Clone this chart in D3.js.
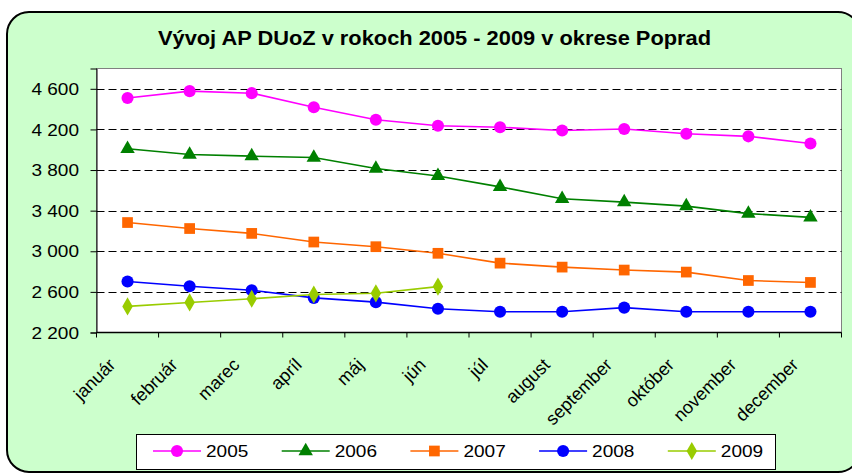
<!DOCTYPE html>
<html><head><meta charset="utf-8">
<script src="https://cdn.jsdelivr.net/npm/d3@7/dist/d3.min.js"></script>
<style>
html,body{margin:0;padding:0;background:#fff;}
svg{display:block;font-family:"Liberation Sans",Arial,sans-serif;}
</style></head>
<body>
<svg id="chart" width="852" height="474"></svg>
<script>
const title = "Vývoj AP DUoZ v rokoch 2005 - 2009 v okrese Poprad";
const months = ["január","február","marec","apríl","máj","jún","júl","august","september","október","november","december"];
const years = ["2005","2006","2007","2008","2009"];
const s2005 = [4510, 4577, 4557, 4418, 4295, 4236, 4222, 4190, 4204, 4157, 4132, 4062];
const s2006 = [4010, 3953, 3937, 3923, 3815, 3742, 3634, 3517, 3484, 3445, 3371, 3334];
const s2007 = [3283, 3224, 3176, 3091, 3045, 2980, 2883, 2844, 2815, 2795, 2712, 2693];
const s2008 = [2703, 2655, 2616, 2541, 2499, 2434, 2405, 2405, 2445, 2405, 2405, 2405];
const s2009 = [2457, 2496, 2532, 2574, 2586, 2652];
const yTicks = [2200, 2600, 3000, 3400, 3800, 4200, 4600];
const yTickLabels = ["2 200","2 600","3 000","3 400","3 800","4 200","4 600"];
const colors = ["#FF00FF","#008000","#FF6600","#0000FF","#99CC00"];
const shapes = [d3.symbolCircle, d3.symbolTriangle, d3.symbolSquare, d3.symbolCircle, d3.symbolDiamond];
const sizes = [115, 90, 115, 115, 95];

const series = [s2005, s2006, s2007, s2008, s2009].map((v,i)=>({year:years[i], values:v, color:colors[i], shape:shapes[i], size:sizes[i]}));

const SX = 1.12; // horizontal text stretch seen in the reference
const svg = d3.select("#chart");

// outer rounded frame
svg.append("rect").attr("x",7).attr("y",12).attr("width",853).attr("height",460)
  .attr("rx",22).attr("ry",22).attr("fill","#CCFFCC").attr("stroke","#000").attr("stroke-width",2);

// title
svg.append("text").attr("transform",`translate(434.5,45) scale(${SX},1)`)
  .attr("text-anchor","middle").attr("font-weight","bold").attr("font-size",19.5).attr("fill","#000").text(title);

const L=96.5, R=841.5, T=68.5, B=332.5;
const x = d3.scaleBand().domain(months).range([L,R]).padding(0);
const y = d3.scaleLinear().domain([2200,4800]).range([B,T]);
const cx = m => x(m) + x.bandwidth()/2;

// plot background
svg.append("rect").attr("x",L).attr("y",T).attr("width",R-L).attr("height",B-T)
  .attr("fill","#fff").attr("stroke","#808080").attr("stroke-width",1);

// grid
svg.append("g").selectAll("line").data(yTicks.filter(t=>t>2200)).join("line")
  .attr("x1",L).attr("x2",R).attr("y1",d=>Math.round(y(d))+0.5).attr("y2",d=>Math.round(y(d))+0.5)
  .attr("stroke","#000").attr("stroke-width",1).attr("stroke-dasharray","8,4");

// y axis
const yAxis = d3.axisLeft(y).tickValues(yTicks).tickSize(6).tickFormat((d,i)=>yTickLabels[i]);
const gy = svg.append("g").attr("transform",`translate(${L},0)`).call(yAxis);
gy.select(".domain").attr("stroke","#000");
gy.selectAll(".tick line").attr("stroke","#000");
gy.selectAll(".tick text").attr("font-size",17).attr("fill","#000").attr("x",0).attr("dy",0)
  .attr("dominant-baseline","central").attr("font-family","Liberation Sans, Arial, sans-serif")
  .attr("transform",`translate(-17.5,0) scale(${SX},1)`);

// x axis
svg.append("line").attr("x1",L).attr("x2",R).attr("y1",B).attr("y2",B).attr("stroke","#000").attr("stroke-width",1.5);
const bounds = months.map(m=>x(m)).concat([x.range()[1]]);
svg.append("g").selectAll("line").data(bounds).join("line")
  .attr("x1",d=>d).attr("x2",d=>d).attr("y1",B).attr("y2",B+5).attr("stroke","#000");
svg.append("g").selectAll("text").data(months).join("text")
  .attr("transform",d=>`translate(${cx(d)-11},366) rotate(-45)`)
  .attr("text-anchor","end").attr("font-size",18).attr("fill","#000").text(d=>d);

// lines and markers
const line = d3.line().x((d,i)=>cx(months[i])).y(d=>y(d));
series.forEach(s=>{
  svg.append("path").attr("d",line(s.values)).attr("fill","none").attr("stroke",s.color).attr("stroke-width",1.6);
  svg.append("g").selectAll("path").data(s.values).join("path")
    .attr("transform",(d,i)=>`translate(${cx(months[i])},${y(d)})`)
    .attr("d",d3.symbol().type(s.shape).size(s.size)).attr("fill",s.color);
});

// legend
const lg = svg.append("g");
lg.append("rect").attr("x",136.5).attr("y",434.5).attr("width",639).attr("height",35)
  .attr("fill","#fff").attr("stroke","#000").attr("stroke-width",1);
series.forEach((s,i)=>{
  const x0 = 153 + i*128.7, ly = 451;
  lg.append("line").attr("x1",x0).attr("x2",x0+48).attr("y1",ly).attr("y2",ly).attr("stroke",s.color).attr("stroke-width",1.6);
  lg.append("path").attr("transform",`translate(${x0+24},${ly})`).attr("d",d3.symbol().type(s.shape).size(s.size)).attr("fill",s.color);
  lg.append("text").attr("transform",`translate(${x0+53},${ly}) scale(${SX},1)`).attr("dominant-baseline","central")
    .attr("font-size",17).attr("fill","#000").text(s.year);
});
</script>
</body></html>
